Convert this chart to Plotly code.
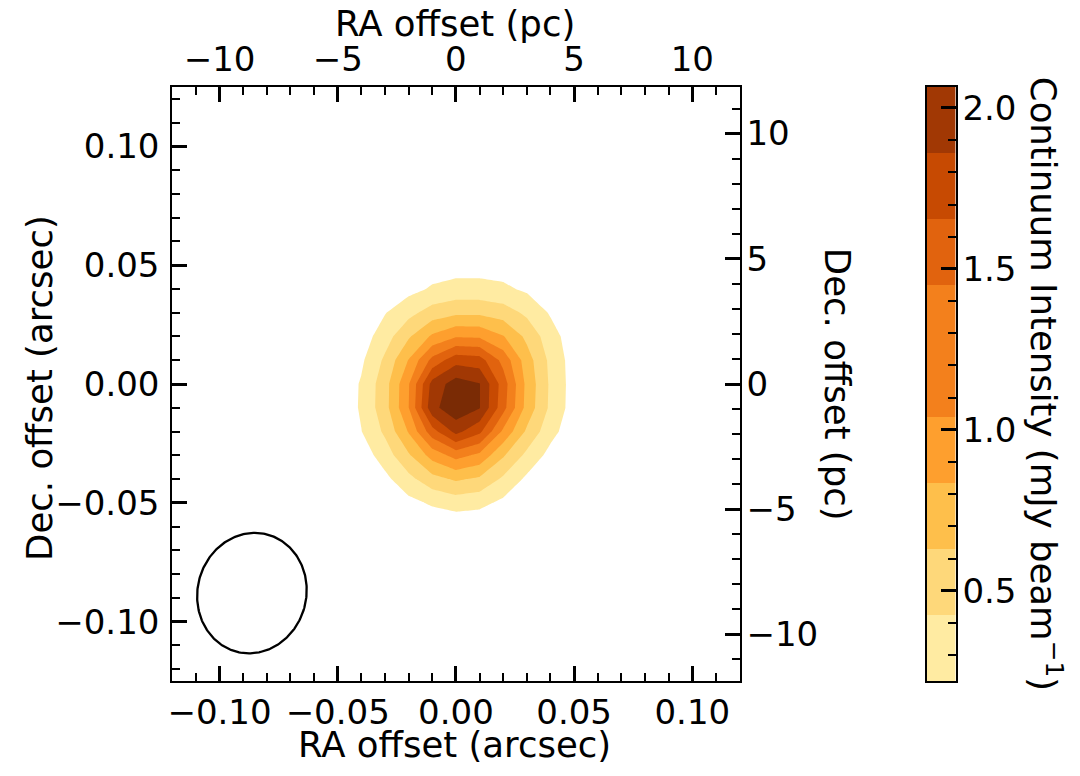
import numpy as np
import plotly.graph_objects as go

# ---------------- data ----------------
# map grid: RA / Dec offsets in arcsec
ra_offsets = [-0.06, -0.05, -0.04, -0.03, -0.02, -0.01, 0.00, 0.01, 0.02, 0.03, 0.04, 0.05, 0.06, 0.07]
dec_offsets = [-0.07, -0.06, -0.05, -0.04, -0.03, -0.02, -0.01, 0.00, 0.01, 0.02, 0.03, 0.04, 0.05, 0.06]

# continuum intensity (mJy/beam); one row per Dec offset (bottom -> top)
row_m070 = [0, 0, 0, 0, 0.008, 0.018, 0.022, 0.020, 0.008, 0, 0, 0, 0, 0]
row_m060 = [0, 0, 0, 0.015, 0.035, 0.060, 0.070, 0.065, 0.040, 0.015, 0, 0, 0, 0]
row_m050 = [0, 0, 0.019, 0.072, 0.161, 0.250, 0.310, 0.280, 0.174, 0.073, 0.018, 0, 0, 0]
row_m040 = [0, 0.008, 0.057, 0.167, 0.363, 0.556, 0.660, 0.595, 0.388, 0.180, 0.066, 0.014, 0, 0]
row_m030 = [0, 0.027, 0.110, 0.319, 0.603, 0.917, 1.118, 0.994, 0.655, 0.373, 0.154, 0.048, 0.002, 0]
row_m020 = [0, 0.060, 0.215, 0.463, 0.852, 1.370, 1.720, 1.500, 0.998, 0.595, 0.290, 0.093, 0.019, 0]
row_m010 = [0.006, 0.070, 0.245, 0.551, 1.035, 1.800, 2.003, 1.870, 1.318, 0.762, 0.383, 0.126, 0.031, 0]
row_p000 = [0.005, 0.070, 0.240, 0.546, 1.023, 1.730, 1.960, 1.870, 1.351, 0.778, 0.391, 0.130, 0.031, 0]
row_p010 = [0, 0.050, 0.185, 0.464, 0.846, 1.311, 1.578, 1.541, 1.180, 0.727, 0.374, 0.125, 0.031, 0]
row_p020 = [0, 0.030, 0.117, 0.331, 0.603, 0.871, 1.019, 1.009, 0.849, 0.581, 0.308, 0.105, 0.025, 0]
row_p030 = [0, 0.015, 0.080, 0.210, 0.362, 0.517, 0.590, 0.588, 0.528, 0.382, 0.199, 0.075, 0.016, 0]
row_p040 = [0, 0, 0.030, 0.085, 0.157, 0.243, 0.286, 0.286, 0.258, 0.186, 0.098, 0.040, 0.003, 0]
row_p050 = [0, 0, 0, 0.030, 0.070, 0.125, 0.140, 0.140, 0.130, 0.080, 0.039, 0.011, 0, 0]
row_p060 = [0, 0, 0, 0, 0.008, 0.020, 0.030, 0.030, 0.025, 0.016, 0.003, 0, 0, 0]
continuum = [row_m070, row_m060, row_m050, row_m040, row_m030, row_m020, row_m010,
             row_p000, row_p010, row_p020, row_p030, row_p040, row_p050, row_p060]

# filled-contour levels (mJy/beam)
level_start = 0.22
level_step = 0.205
n_levels = 10
levels = [round(level_start + i * level_step, 4) for i in range(n_levels)]

# tick values / labels
arcsec_ticks = [-0.10, -0.05, 0.0, 0.05, 0.10]
arcsec_labels = ["\u22120.10", "\u22120.05", "0.00", "0.05", "0.10"]
pc_ticks = [-10, -5, 0, 5, 10]
pc_labels = ["\u221210", "\u22125", "0", "5", "10"]
cbar_ticks = [0.5, 1.0, 1.5, 2.0]
cbar_labels = ["0.5", "1.0", "1.5", "2.0"]

# synthesized beam (arcsec, deg)
beam_x, beam_y = -0.0863, -0.088
beam_major, beam_minor, beam_pa = 0.051, 0.046, 15.0

# ---------------- styling ----------------
band_colors = ["#FFEBA2", "#FED87A", "#FEBF4B", "#FE9F2E", "#F3801C",
               "#E1630E", "#C74A02", "#A13804", "#7A2B05"]
FONT = "DejaVu Sans"
TICK_SIZE = 34
TITLE_SIZE = 35.5
OFF = 8                      # page body margin of the browser
W, H = 1080 - OFF, 776 - OFF
px_left, px_right, px_top, px_bot = 168 - OFF, 738 - OFF, 87 - OFF, 681 - OFF
cb_left, cb_right = 926 - OFF, 955 - OFF
xdom = [px_left / W, px_right / W]
ydom = [1 - px_bot / H, 1 - px_top / H]
cbdom = [cb_left / W, cb_right / W]

# contour colorscale: position 0 -> below first level (transparent), k/10 -> band k
n_b = len(band_colors)
clear = "rgba(255,255,255,0)"
cscale = [[0.0, clear], [0.05, clear]]
for k, c in enumerate(band_colors):
    lo = round(0.05 + 0.1 * k, 4)
    hi = round(lo + 0.1, 4) if k < n_b - 1 else 1.0
    cscale += [[lo, c], [hi, c]]

# colorbar heatmap colorscale (value k -> band k)
cb_scale = []
for k, c in enumerate(band_colors):
    cb_scale += [[round(k / n_b, 6), c], [round((k + 1) / n_b, 6), c]]
cb_scale[-1][0] = 1.0

fig = go.Figure()

fig.add_trace(go.Contour(
    x=ra_offsets, y=dec_offsets, z=continuum,
    autocontour=False,
    contours=dict(start=levels[0], end=levels[-1] + 0.004, size=level_step,
                  coloring="fill", showlines=False),
    line=dict(width=0, smoothing=0),
    colorscale=cscale, showscale=False, hoverinfo="skip",
    xaxis="x", yaxis="y",
))

# beam ellipse
t = np.linspace(0, 2 * np.pi, 241)
phi = np.deg2rad(beam_pa)
u = 0.5 * beam_minor * np.cos(t)
v = 0.5 * beam_major * np.sin(t)
fig.add_trace(go.Scatter(
    x=beam_x + u * np.cos(phi) + v * np.sin(phi),
    y=beam_y - u * np.sin(phi) + v * np.cos(phi),
    mode="lines", line=dict(color="black", width=2.3),
    hoverinfo="skip", showlegend=False, xaxis="x", yaxis="y",
))

# dummy trace for pc axes
fig.add_trace(go.Scatter(x=[0], y=[0], mode="markers", marker=dict(opacity=0),
                         hoverinfo="skip", showlegend=False, xaxis="x3", yaxis="y3"))

# colorbar as heatmap
fig.add_trace(go.Heatmap(
    x=[0, 1], y=levels, z=[[k] for k in range(n_b)],
    zmin=0, zmax=n_b, colorscale=cb_scale, showscale=False, hoverinfo="skip",
    xaxis="x2", yaxis="y2",
))

axis_common = dict(
    showgrid=False, zeroline=False, showline=True, linecolor="black", linewidth=2,
    ticks="inside", ticklen=15, tickwidth=2.5, tickcolor="black",
    tickfont=dict(family=FONT, size=TICK_SIZE, color="black"),
)

def minor(vals):
    return dict(tickmode="array", tickvals=vals, ticks="inside", ticklen=8,
                tickwidth=2, tickcolor="black")

arc_minor_x = [round(v, 3) for v in np.arange(-0.12, 0.1201, 0.01)]
arc_minor_y = [round(v, 3) for v in np.arange(-0.12, 0.1201, 0.01)]
pc_minor = list(range(-12, 13))
cb_minor = [round(v, 2) for v in np.arange(0.3, 2.05, 0.1)]

fig.update_layout(
    width=W, height=H,
    margin=dict(l=0, r=0, t=0, b=0),
    paper_bgcolor="white", plot_bgcolor="white",
    font=dict(family=FONT, color="black"),
    showlegend=False,
    xaxis=dict(domain=xdom, range=[-0.12, 0.12], anchor="y",
               tickmode="array", tickvals=arcsec_ticks, ticktext=arcsec_labels,
               minor=minor(arc_minor_x), **axis_common),
    yaxis=dict(domain=ydom, range=[-0.125, 0.125], anchor="x",
               tickmode="array", tickvals=arcsec_ticks, ticktext=arcsec_labels,
               minor=minor(arc_minor_y), ticklabelstandoff=4, **axis_common),
    xaxis3=dict(overlaying="x", side="top", anchor="y", range=[-12, 12],
                tickmode="array", tickvals=pc_ticks, ticktext=pc_labels,
                minor=minor(pc_minor), **axis_common),
    yaxis3=dict(overlaying="y", side="right", anchor="x", range=[-11.86, 11.86],
                tickmode="array", tickvals=pc_ticks, ticktext=pc_labels,
                minor=minor(pc_minor), ticklabelstandoff=-2, **axis_common),
    xaxis2=dict(domain=cbdom, range=[0, 1], anchor="y2", showgrid=False, zeroline=False,
                showline=True, mirror=True, linecolor="black", linewidth=2,
                ticks="", showticklabels=False),
    yaxis2=dict(domain=ydom, range=[levels[0], levels[-1]], anchor="x2", side="right",
                tickmode="array", tickvals=cbar_ticks, ticktext=cbar_labels,
                minor=minor(cb_minor), mirror=True, ticklabelstandoff=-2, **axis_common),
)

def title(text, x, y, angle=0):
    fig.add_annotation(text=text, x=(x - OFF) / W, y=1 - (y - OFF) / H,
                       xref="paper", yref="paper",
                       showarrow=False, textangle=angle, xanchor="center", yanchor="middle",
                       font=dict(family=FONT, size=TITLE_SIZE, color="black"))

title("RA offset (arcsec)", 452, 744)
title("RA offset (pc)", 452, 23)
title("Dec. offset (arcsec)", 34, 388, -90)
title("Dec. offset (pc)", 836, 384, 90)
title("Continuum Intensity (mJy beam<sup>\u22121</sup>)", 1046, 384, 90)

fig.write_html("out.html")
